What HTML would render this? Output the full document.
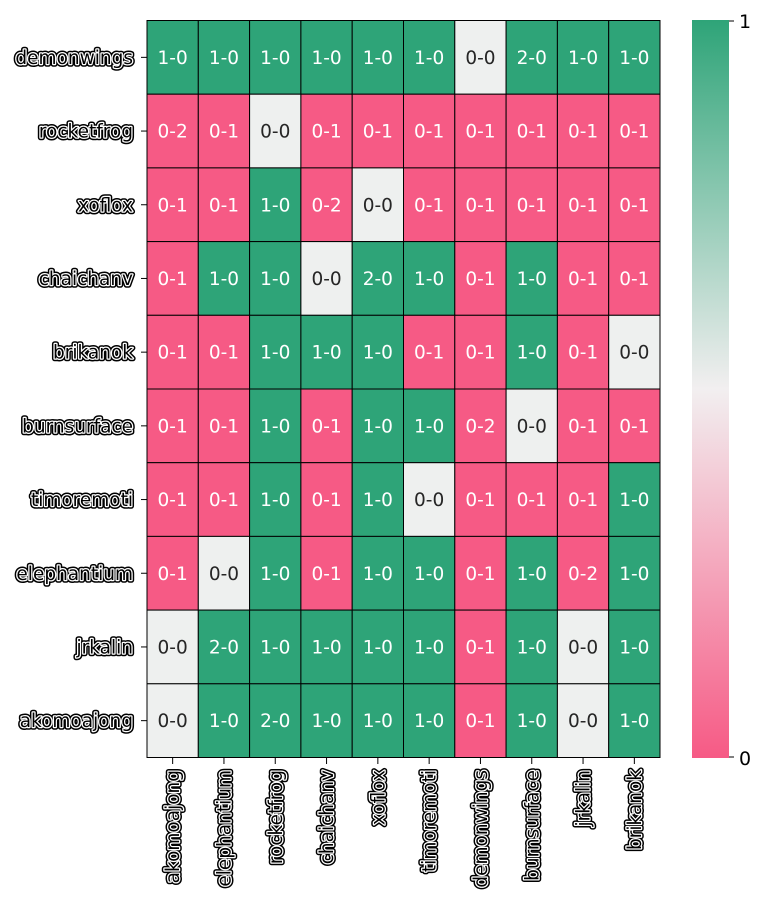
<!DOCTYPE html>
<html><head><meta charset="utf-8"><style>
html,body{margin:0;padding:0;background:#fff;width:768px;height:906px;overflow:hidden}
svg text{font-family:"DejaVu Sans","Liberation Sans",sans-serif}
</style></head><body>
<svg id="s" width="768" height="906" xmlns="http://www.w3.org/2000/svg">
<defs><linearGradient id="g" x1="0" y1="0" x2="0" y2="1">
<stop offset="0" stop-color="#2ea478"/><stop offset="0.5" stop-color="#f2eff0"/><stop offset="1" stop-color="#f65a85"/></linearGradient></defs>
<rect x="692" y="20" width="37" height="738" fill="url(#g)"/>
<line x1="729" y1="21" x2="734" y2="21" stroke="#000"/>
<line x1="729" y1="757" x2="734" y2="757" stroke="#000"/>
<text x="739" y="28" font-size="19">1</text>
<text x="739" y="765" font-size="19">0</text>
</svg>
<script>
var names=["demonwings","rocketfrog","xoflox","chaichanv","brikanok","burnsurface","timoremoti","elephantium","jrkalin","akomoajong"];
var cols=["akomoajong","elephantium","rocketfrog","chaichanv","xoflox","timoremoti","demonwings","burnsurface","jrkalin","brikanok"];
var d=["1-0 1-0 1-0 1-0 1-0 1-0 0-0 2-0 1-0 1-0","0-2 0-1 0-0 0-1 0-1 0-1 0-1 0-1 0-1 0-1","0-1 0-1 1-0 0-2 0-0 0-1 0-1 0-1 0-1 0-1","0-1 1-0 1-0 0-0 2-0 1-0 0-1 1-0 0-1 0-1","0-1 0-1 1-0 1-0 1-0 0-1 0-1 1-0 0-1 0-0","0-1 0-1 1-0 0-1 1-0 1-0 0-2 0-0 0-1 0-1","0-1 0-1 1-0 0-1 1-0 0-0 0-1 0-1 0-1 1-0","0-1 0-0 1-0 0-1 1-0 1-0 0-1 1-0 0-2 1-0","0-0 2-0 1-0 1-0 1-0 1-0 0-1 1-0 0-0 1-0","0-0 1-0 2-0 1-0 1-0 1-0 0-1 1-0 0-0 1-0"];
var x0=147,y0=20.5,cw=51.3,rh=73.7,h="";
function lab(x,y,t,tr,anchor){var a='x="'+x+'" y="'+y+'" font-size="18.5" text-anchor="'+anchor+'"'+(tr?' transform="'+tr+'"':'');
return '<text '+a+' stroke="#000" stroke-width="5.5" stroke-linejoin="round" fill="#000">'+t+'</text><text '+a+' stroke="#fff" stroke-width="2.5" stroke-linejoin="round" fill="#000" paint-order="stroke">'+t+'</text>';}
for(var r=0;r<10;r++){var v=d[r].split(" ");for(var c=0;c<10;c++){var s=v[c],a=+s[0],b=+s[2];
var col=a>b?"#2ea478":a<b?"#f65a85":"#eef0ef",tc=a==b?"#262626":"#fff";
var x=x0+c*cw,y=y0+r*rh;
h+='<rect x="'+x+'" y="'+y+'" width="'+cw+'" height="'+rh+'" fill="'+col+'" stroke="#000" stroke-width="1"/>';
h+='<text x="'+(x+cw/2)+'" y="'+(y+rh/2+6.5)+'" font-size="18.5" fill="'+tc+'" text-anchor="middle">'+s+'</text>';}
var yc=y0+r*rh+rh/2;h+='<line x1="141" y1="'+yc+'" x2="147" y2="'+yc+'" stroke="#000"/>'+lab(133,yc+6.5,names[r],null,"end");}
for(var c=0;c<10;c++){var xc=x0+c*cw+cw/2;h+='<line x1="'+xc+'" y1="758" x2="'+xc+'" y2="764" stroke="#000"/>';
h+=lab(xc+6.5,770,cols[c],"rotate(-90 "+(xc+6.5)+" 770)","end");}
h+='<rect x="147" y="20.5" width="513" height="737" fill="none" stroke="#000" stroke-width="1"/>';
document.getElementById("s").insertAdjacentHTML("afterbegin",h);
</script>
</body></html>
